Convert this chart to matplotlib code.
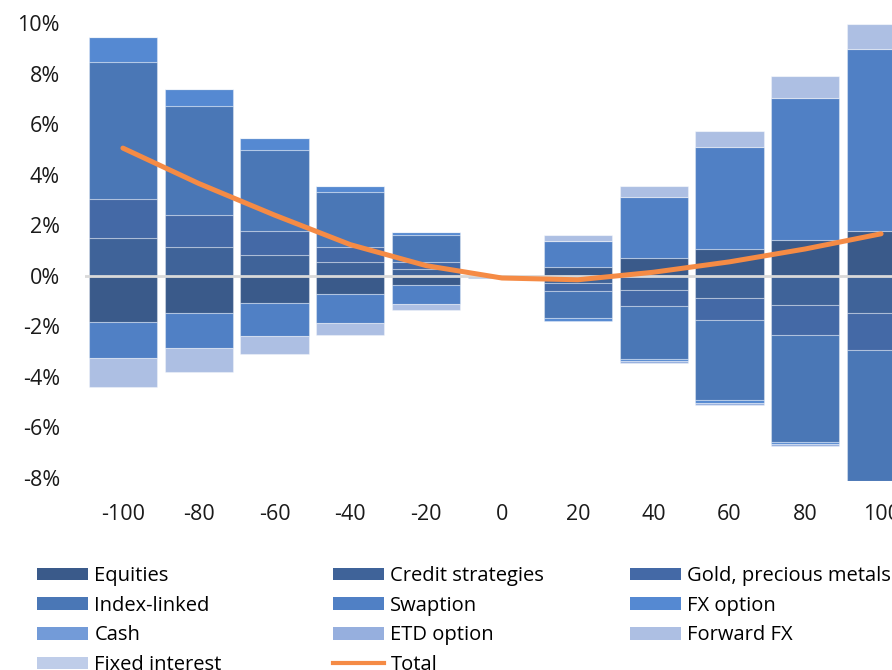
import numpy as np
import matplotlib
matplotlib.use("Agg")
import matplotlib.pyplot as plt
from matplotlib.patches import Patch
from matplotlib.lines import Line2D

plt.rcParams['font.family'] = ['Open Sans', 'DejaVu Sans']

# rate shock (bp) and contribution of each asset class (% of portfolio)
shocks = [-100, -80, -60, -40, -20, 0, 20, 40, 60, 80, 100]

equities     = [-1.82, -1.46, -1.08, -0.72, -0.36, 0.00, 0.36, 0.70, 1.06, 1.41, 1.77]
credit       = [1.49, 1.14, 0.82, 0.54, 0.26, 0.00, -0.29, -0.55, -0.87, -1.16, -1.46]
gold         = [1.54, 1.26, 0.95, 0.60, 0.28, 0.00, -0.32, -0.63, -0.87, -1.17, -1.47]
index_linked = [5.42, 4.31, 3.20, 2.17, 1.07, 0.00, -1.06, -2.10, -3.19, -4.24, -5.17]
swaption     = [-1.42, -1.39, -1.29, -1.15, -0.76, -0.10, 1.00, 2.42, 4.02, 5.63, 7.21]
fx_option    = [0.98, 0.69, 0.49, 0.26, 0.14, 0.00, -0.11, -0.08, -0.10, -0.09, -0.10]
cash         = [0, 0, 0, 0, 0, 0, 0, 0, 0, 0, 0]
etd_option   = [0, 0, 0, 0, 0, 0, 0, -0.09, -0.07, -0.09, -0.08]
forward_fx   = [-1.18, -0.94, -0.74, -0.47, -0.25, 0.00, 0.24, 0.45, 0.63, 0.86, 0.99]
fixed_int    = [0, 0, 0, 0, 0, 0, 0, 0, 0, 0, 0]

total = [5.05, 3.65, 2.40, 1.23, 0.40, -0.09, -0.16, 0.14, 0.55, 1.06, 1.66]

names = ["Equities", "Credit strategies", "Gold, precious metals", "Index-linked",
         "Swaption", "FX option", "Cash", "ETD option", "Forward FX", "Fixed interest"]
series = [equities, credit, gold, index_linked, swaption, fx_option,
          cash, etd_option, forward_fx, fixed_int]
colors = ["#3A5A8A", "#3F6399", "#4469A6", "#4A77B6", "#5080C5",
          "#5589D2", "#739BD8", "#96AFDE", "#ADBFE3", "#BFCDE9"]

W, H = 892, 670
fig = plt.figure(figsize=(W / 100, H / 100), dpi=100)
# plot area runs past the right edge of the figure
ax = fig.add_axes([85 / W, (H - 480.5) / H, (919 - 85) / W, (480.5 - 21.7) / H])

x = np.array(shocks)
pos_base = np.zeros(len(x))
neg_base = np.zeros(len(x))
for vals, col in zip(series, colors):
    v = np.array(vals, dtype=float)
    bottom = np.where(v >= 0, pos_base, neg_base)
    ax.bar(x, v, width=18, bottom=bottom, color=col,
           edgecolor=(1, 1, 1, 0.35), linewidth=0.8, zorder=2)
    pos_base += np.where(v >= 0, v, 0)
    neg_base += np.where(v < 0, v, 0)

ax.axhline(0, color="#D9D9D9", lw=2, zorder=3)
ax.plot(x, total, color="#F58B45", lw=3.6, zorder=4, solid_capstyle="round")

ax.set_xlim(-110, 110)
ax.set_ylim(-8.1, 10.05)
ax.set_xticks(shocks)
ax.set_xticklabels([str(s) for s in shocks])
yt = np.arange(-8, 11, 2)
ax.set_yticks(yt)
ax.set_yticklabels([f"{v}%" for v in yt])
ax.tick_params(length=0, labelsize=15.5, colors="#1a1a1a")
ax.tick_params(axis="y", pad=18)
ax.tick_params(axis="x", pad=17)
for s in ax.spines.values():
    s.set_visible(False)

# legend in three separate columns, filled row by row
handles = [Patch(facecolor=c, edgecolor="none") for c in colors]
handles.append(Line2D([], [], color="#F58B45", lw=3))
labels = names + ["Total"]
cols = [[0, 3, 6, 9], [1, 4, 7, 10], [2, 5, 8]]
col_x = [37, 333, 630]
for idx, cx in zip(cols, col_x):
    fig.legend([handles[i] for i in idx], [labels[i] for i in idx],
               loc="upper left", bbox_to_anchor=(cx / W, 1 - 566 / H),
               frameon=False, borderpad=0, borderaxespad=0,
               fontsize=14.5, handlelength=2.55, handleheight=0.6,
               handletextpad=0.3, labelspacing=0.48)

fig.savefig("out.png", dpi=100)
